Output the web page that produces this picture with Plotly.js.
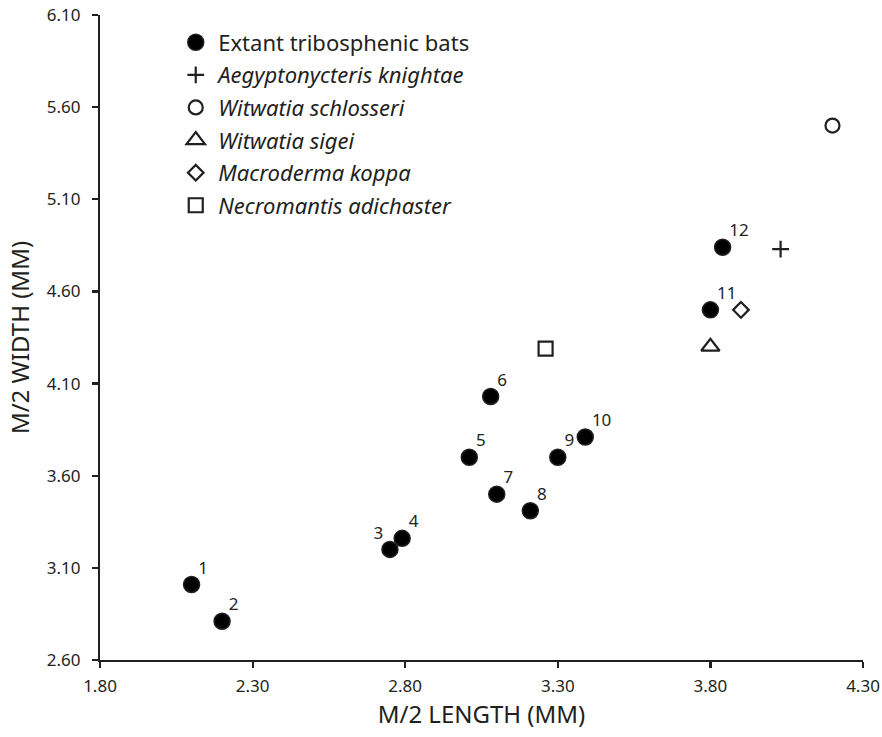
<!DOCTYPE html>
<html>
<head>
<meta charset="utf-8">
<script src="https://cdn.plot.ly/plotly-3.0.1.min.js"></script>
<style>html,body{margin:0;padding:0;background:#fff;}#chart{width:882px;height:737px;}</style>
</head>
<body>
<div id="chart"></div>
<script>
// Extant tribosphenic bats (numbered 1-12)
const extantLabels = ["1","2","3","4","5","6","7","8","9","10","11","12"];
const extantLength = [2.10, 2.20, 2.75, 2.79, 3.01, 3.08, 3.10, 3.21, 3.30, 3.39, 3.80, 3.84];
const extantWidth  = [3.01, 2.81, 3.20, 3.26, 3.70, 4.03, 3.50, 3.41, 3.70, 3.81, 4.50, 4.84];
const labelPos = ["top right","top right","top left","top right","top right","top right","top right","top right","top right","top right","top right","top right"];

// Fossil taxa
const fossilNames  = ["Aegyptonycteris knightae","Witwatia schlosseri","Witwatia sigei","Macroderma koppa","Necromantis adichaster"];
const fossilLength = [4.03, 4.20, 3.80, 3.90, 3.26];
const fossilWidth  = [4.83, 5.50, 4.30, 4.50, 4.29];
const fossilSymbols = ["cross-thin-open","circle-open","triangle-up-open","diamond-open","square-open"];
const fossilSizes = [12, 14, 16, 12, 14];

const ink = "#231f20";
const FONT = "Noto Sans, sans-serif";

const traces = [];
traces.push({
  x: extantLength, y: extantWidth, type: "scatter", mode: "markers",
  name: "Extant tribosphenic bats", legendgroup: "g0",
  marker: {symbol: "circle", size: 16, color: "#000", line: {color: ink, width: 1.5}}
});
traces.push({
  x: extantLength, y: extantWidth, type: "scatter", mode: "markers+text",
  text: extantLabels, textposition: labelPos, showlegend: false, hoverinfo: "skip",
  marker: {size: 9, opacity: 0, color: "rgba(0,0,0,0)"},
  textfont: {family: FONT, size: 17, color: ink}
});
fossilNames.forEach((n, i) => {
  traces.push({
    x: [fossilLength[i]], y: [fossilWidth[i]], type: "scatter", mode: "markers",
    name: "<i>" + n + "</i>", legendgroup: "g" + (i + 1),
    marker: {symbol: fossilSymbols[i], size: fossilSizes[i], color: ink,
             line: {color: ink, width: 2.2}}
  });
});

const axisCommon = {
  showline: true, linecolor: ink, linewidth: 2.2, mirror: false,
  ticks: "outside", ticklen: 6, tickwidth: 2.2, tickcolor: ink,
  showgrid: false, zeroline: false, tickformat: ".2f", dtick: 0.5,
  tickfont: {family: FONT, size: 17, color: ink}
};

const layout = {
  width: 882, height: 737,
  margin: {l: 100, r: 19, t: 15, b: 77},
  paper_bgcolor: "#fff", plot_bgcolor: "#fff",
  font: {family: FONT, color: ink},
  xaxis: Object.assign({}, axisCommon, {
    range: [1.8, 4.3], tick0: 1.8, ticklabelstandoff: 3,
    title: {text: "M/2 LENGTH (MM)", font: {family: FONT, size: 24, color: ink}, standoff: 8}
  }),
  yaxis: Object.assign({}, axisCommon, {
    range: [2.6, 6.1], tick0: 2.6, ticklabelstandoff: 8,
    title: {text: "M/2 WIDTH (MM)", font: {family: FONT, size: 24, color: ink}, standoff: 10}
  }),
  showlegend: true,
  legend: {
    x: 0.096, y: 0.99, xanchor: "left", yanchor: "top",
    bgcolor: "rgba(0,0,0,0)", borderwidth: 0, itemwidth: 35,
    font: {family: FONT, size: 22, color: ink},
    tracegroupgap: 1, traceorder: "grouped"
  }
};

Plotly.newPlot("chart", traces, layout, {displayModeBar: false, staticPlot: true});
</script>
</body>
</html>
